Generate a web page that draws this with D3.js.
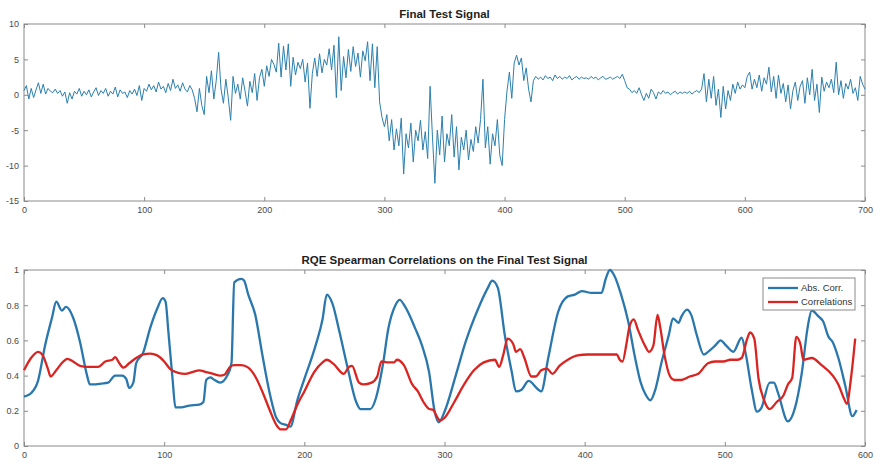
<!DOCTYPE html>
<html>
<head>
<meta charset="utf-8">
<script src="https://cdn.jsdelivr.net/npm/d3@7"></script>
<style>
  body { margin: 0; background: #fff; }
  svg { display: block; font-family: "Liberation Sans", Arial, Helvetica, sans-serif; }
  .axis text { fill: #4a4a4a; font-size: 9px; }
  .axis line { stroke: #8a8a8a; }
  .axis path { display: none; }
  .title { font-weight: bold; font-size: 11.5px; fill: #1e1e1e; }
  .legend text { font-size: 9.5px; fill: #333; }
</style>
</head>
<body>
<div id="chart"></div>
<script>
// top panel: test signal, one value every 2 samples (0..700)
var signalStep = 2;
var signalValues = [
  0.6, 1.3, -0.6, 0.9, -0.4, 0.7, 1.7, 0.2, 1.5, 0.1, 0.9, 0.5, 0.3, 0.8, 0.2, 0.6, -0.2, 0.4, -1.2, 0.3, -0.6, 0.5, 0.1, 0.9, -0.2,
  0.5, 0.0, 0.7, -0.3, 0.4, 1.0, -0.1, 0.6, 0.2, 0.9, -0.2, 0.5, 0.1, 1.1, -0.3, 0.7, 0.2, 0.4, -0.4, 0.6, 0.1, 0.8, -0.1, 1.3, -0.8,
  0.9, 0.5, 1.5, 0.7, 1.3, 0.4, 1.8, 0.8, 1.2, 0.3, 1.6, 0.6, 2.2, 0.9, 1.4, 0.5, 1.7, 0.8, 0.4, 1.3, 0.7, -0.5, -2.4, 0.9, -1.5,
  -2.8, 2.6, 0.3, 3.4, -0.6, 2.0, 6.0, 0.8, -1.2, 2.2, -0.4, -3.6, 2.6, 0.2, 1.5, -0.6, 2.4, 0.5, -1.6, 1.9, 0.3, 3.0, -0.8, 2.4, 3.6,
  1.2, 4.1, 2.6, 5.0, 4.3, 3.2, 7.3, 2.5, 6.9, 3.5, 7.2, 1.2, 5.3, 2.8, 4.6, 3.7, 5.0, 1.8, 4.5, -1.9, 3.0, 5.2, 2.6, 5.8, 3.1,
  5.0, 4.2, 6.5, 3.5, 7.0, -0.4, 8.2, 0.6, 5.4, 2.4, 6.4, 3.3, 6.8, 4.0, 5.9, 2.5, 6.2, 4.8, 7.5, 2.0, 7.2, 1.0, 6.8, -1.0, -3.2,
  -4.5, -2.8, -6.5, -3.5, -7.8, -4.8, -7.2, -3.3, -11.2, -5.5, -7.5, -4.0, -9.5, -5.0, -6.5, -3.6, -7.8, -5.2, -9.0, 1.2, -6.0, -12.5, -5.0, -8.5, -3.0,
  -9.5, -5.5, -7.2, -2.8, -8.8, -4.5, -10.6, -6.0, -7.8, -5.0, -9.2, -6.3, -8.0, -4.5, -6.8, -3.5, 2.2, -7.5, -4.5, -9.8, -5.5, -7.2, -3.5, -8.5, -10.0,
  -3.5, 0.5, 3.2, -0.5, 4.5, 5.6, 4.2, 5.2, 2.0, 3.8, 0.8, -1.0, 2.0, 2.6, 2.2, 2.5, 2.1, 2.7, 2.3, 2.5, 2.0, 2.8, 2.3, 2.6, 2.2,
  2.5, 2.3, 2.7, 2.1, 2.4, 2.6, 2.2, 2.5, 2.3, 2.4, 2.2, 2.6, 2.3, 2.5, 2.1, 2.4, 2.6, 2.2, 2.3, 2.5, 2.2, 2.4, 2.6, 2.3, 2.9,
  2.0, 1.0, 0.8, 0.3, 0.6, 0.2, 1.0, 0.0, -0.8, 0.2, -0.5, 0.8, 0.3, -0.6, 0.4, 0.1, 0.6, 0.2, 0.4, 0.0, 0.3, 0.5, 0.1, 0.4, 0.2,
  0.4, 0.2, 0.5, 0.1, 0.4, 0.6, 0.3, 0.8, 3.0, -1.0, 2.2, -0.5, 2.6, -1.5, 0.8, -3.2, 1.2, -2.0, 0.6, -0.8, 1.5, 0.2, 1.8, 0.8, 1.4,
  1.0, 2.6, 3.2, 0.8, 2.2, 1.0, 2.8, 0.5, 2.4, 1.5, 3.9, 0.4, 2.6, -0.5, 2.8, 0.2, 1.6, -1.0, 1.4, -2.0, 0.6, 1.8, -0.8, 1.2, 2.0,
  -1.2, 2.4, 0.0, 3.6, -0.8, 1.5, -2.5, 2.5, 0.5, 1.8, 1.0, 2.2, 0.3, 4.6, 0.0, 2.0, -0.5, 1.6, 0.8, 2.2, 0.2, 1.0, -0.8, 2.6, 1.5,
  0.8
];

// bottom panel: Abs. Corr. (blue)
var absX = [0, 5, 10, 15, 20, 23, 27, 30, 35, 40, 45, 47, 50, 55, 60, 65, 70, 73, 75, 78, 80, 85, 90, 95, 99, 101, 103, 106, 108, 112,
  118, 125, 128, 130, 133, 135, 140, 145, 148, 150, 155, 157, 160, 165, 170, 175, 180, 183, 187, 190, 195, 200, 208, 213, 216, 220,
  225, 231, 237, 240, 247, 251, 256, 260, 265, 268, 272, 279, 284, 289, 293, 296, 300, 308, 315, 324, 331, 334, 338, 343, 348, 351,
  355, 360, 367, 369, 374, 381, 388, 393, 398, 405, 412, 415, 418, 421, 426, 431, 436, 440, 443, 447, 450, 455, 460, 463, 467, 469,
  473, 476, 480, 485, 488, 493, 497, 501, 506, 512, 515, 519, 523, 526, 532, 535, 538, 545, 550, 555, 559, 562, 567, 570, 574, 577,
  581, 586, 591, 594];
var absY = [0.28, 0.30, 0.37, 0.57, 0.73, 0.82, 0.77, 0.79, 0.73, 0.59, 0.40, 0.35, 0.35, 0.355, 0.36, 0.40, 0.40, 0.38, 0.33, 0.36,
  0.47, 0.53, 0.67, 0.78, 0.84, 0.82, 0.65, 0.38, 0.22, 0.22, 0.23, 0.235, 0.25, 0.375, 0.39, 0.38, 0.36, 0.40, 0.47, 0.93, 0.95,
  0.94, 0.86, 0.745, 0.52, 0.31, 0.16, 0.13, 0.12, 0.11, 0.26, 0.38, 0.57, 0.72, 0.86, 0.81, 0.65, 0.44, 0.25, 0.21, 0.21, 0.27,
  0.46, 0.67, 0.80, 0.83, 0.79, 0.67, 0.57, 0.42, 0.195, 0.135, 0.195, 0.40, 0.59, 0.78, 0.90, 0.94, 0.90, 0.63, 0.42, 0.31, 0.32,
  0.37, 0.32, 0.31, 0.50, 0.76, 0.85, 0.86, 0.88, 0.87, 0.87, 0.95, 1.0, 0.97, 0.86, 0.71, 0.50, 0.36, 0.30, 0.26, 0.31, 0.48,
  0.63, 0.725, 0.70, 0.735, 0.775, 0.745, 0.63, 0.52, 0.535, 0.57, 0.60, 0.57, 0.535, 0.615, 0.52, 0.33, 0.195, 0.215, 0.36, 0.36,
  0.30, 0.14, 0.215, 0.42, 0.67, 0.77, 0.735, 0.71, 0.62, 0.59, 0.50, 0.34, 0.17, 0.205];

// bottom panel: Correlations (red)
var corrX = [0, 5, 10, 13, 17, 19, 23, 28, 31, 35, 40, 45, 50, 53, 58, 63, 65, 68, 71, 75, 80, 85, 90, 95, 100, 104, 110, 115, 120,
  125, 130, 135, 140, 143, 147, 150, 155, 160, 165, 170, 175, 180, 183, 187, 190, 195, 200, 207, 213, 216, 221, 228, 232, 234, 239,
  242, 248, 252, 255, 259, 264, 266, 271, 277, 281, 285, 289, 292, 294, 297, 300, 307, 314, 321, 328, 336, 339, 342, 345, 349, 351,
  354, 357, 362, 365, 369, 373, 377, 382, 388, 395, 402, 410, 419, 423, 425, 427, 430, 432, 435, 438, 443, 446, 449, 452, 454, 457,
  461, 464, 469, 475, 481, 488, 493, 499, 504, 509, 512, 516, 518, 521, 524, 528, 532, 537, 542, 545, 548, 551, 554, 556, 562, 569,
  577, 581, 585, 587, 590, 593];
var corrY = [0.43, 0.50, 0.535, 0.52, 0.44, 0.395, 0.43, 0.48, 0.495, 0.48, 0.455, 0.45, 0.45, 0.45, 0.48, 0.49, 0.505, 0.47, 0.445,
  0.47, 0.50, 0.52, 0.525, 0.515, 0.48, 0.44, 0.415, 0.41, 0.42, 0.43, 0.42, 0.41, 0.40, 0.405, 0.45, 0.46, 0.46, 0.445, 0.395,
  0.31, 0.21, 0.12, 0.095, 0.095, 0.14, 0.235, 0.31, 0.42, 0.475, 0.49, 0.465, 0.41, 0.45, 0.455, 0.36, 0.35, 0.36, 0.395, 0.48,
  0.475, 0.475, 0.49, 0.46, 0.35, 0.31, 0.25, 0.21, 0.205, 0.175, 0.145, 0.16, 0.25, 0.35, 0.43, 0.475, 0.49, 0.45, 0.52, 0.61,
  0.58, 0.535, 0.55, 0.50, 0.395, 0.395, 0.43, 0.44, 0.41, 0.455, 0.49, 0.515, 0.52, 0.52, 0.52, 0.52, 0.49, 0.48, 0.59, 0.68,
  0.72, 0.66, 0.57, 0.535, 0.57, 0.745, 0.67, 0.515, 0.395, 0.375, 0.375, 0.395, 0.41, 0.47, 0.48, 0.48, 0.49, 0.49, 0.50, 0.61,
  0.645, 0.61, 0.385, 0.26, 0.21, 0.25, 0.29, 0.35, 0.385, 0.62, 0.575, 0.49, 0.50, 0.46, 0.40, 0.35, 0.27, 0.24, 0.385, 0.61];

var signalTicksX = [0, 100, 200, 300, 400, 500, 600, 700];
var signalTicksY = [-15, -10, -5, 0, 5, 10];
var corrTicksX = [0, 100, 200, 300, 400, 500, 600];
var corrTicksY = [0, 0.2, 0.4, 0.6, 0.8, 1];
var seriesNames = ["Abs. Corr.", "Correlations"];
var seriesColors = ["#2a77ae", "#d92522"];

var width = 876, height = 464;

var svg = d3.select("#chart").append("svg")
    .attr("width", width)
    .attr("height", height)

svg.append("rect").attr("width", width).attr("height", height).attr("fill", "#fff")

// one MATLAB style box with inward ticks on all four sides
function drawPanel(box, xDomain, yDomain, xTicks, yTicks, title) {
    var x = d3.scaleLinear().domain(xDomain).range([box.left, box.right])
    var y = d3.scaleLinear().domain(yDomain).range([box.bottom, box.top])
    var fmt = function (d) { return String(d) }

    svg.append("g")
        .attr("class", "axis")
        .attr("transform", "translate(0," + box.bottom + ")")
        .call(d3.axisBottom(x).tickValues(xTicks).tickSize(-4).tickSizeOuter(0).tickPadding(6).tickFormat(fmt))

    svg.append("g")
        .attr("class", "axis")
        .attr("transform", "translate(0," + box.top + ")")
        .call(d3.axisTop(x).tickValues(xTicks).tickSize(-4).tickSizeOuter(0).tickFormat(""))

    svg.append("g")
        .attr("class", "axis")
        .attr("transform", "translate(" + box.left + ",0)")
        .call(d3.axisLeft(y).tickValues(yTicks).tickSize(-4).tickSizeOuter(0).tickPadding(5).tickFormat(fmt))

    svg.append("g")
        .attr("class", "axis")
        .attr("transform", "translate(" + box.right + ",0)")
        .call(d3.axisRight(y).tickValues(yTicks).tickSize(-4).tickSizeOuter(0).tickFormat(""))

    svg.append("rect")
        .attr("x", box.left)
        .attr("y", box.top)
        .attr("width", box.right - box.left)
        .attr("height", box.bottom - box.top)
        .attr("fill", "none")
        .attr("stroke", "#8a8a8a")
        .attr("stroke-width", 1)

    svg.append("text")
        .attr("class", "title")
        .attr("x", (box.left + box.right) / 2)
        .attr("y", box.top - 6)
        .attr("text-anchor", "middle")
        .text(title)

    return { x: x, y: y }
}

// top: the test signal
var signalPanel = drawPanel({ left: 24, right: 865, top: 24, bottom: 201 }, [0, 700], [-15, 10],
    signalTicksX, signalTicksY, "Final Test Signal")

var signalLine = d3.line()
    .x(function (d, i) { return signalPanel.x(i * signalStep) })
    .y(function (d) { return signalPanel.y(d) })

svg.append("path")
    .datum(signalValues)
    .attr("d", signalLine)
    .attr("fill", "none")
    .attr("stroke", "#2b80ad")
    .attr("stroke-width", 1)
    .attr("stroke-linejoin", "round")

// bottom: the two correlation curves
var corrPanel = drawPanel({ left: 24, right: 865, top: 270, bottom: 446 }, [0, 600], [0, 1],
    corrTicksX, corrTicksY, "RQE Spearman Correlations on the Final Test Signal")

var corrLine = d3.line()
    .curve(d3.curveMonotoneX)
    .x(function (d) { return corrPanel.x(d[0]) })
    .y(function (d) { return corrPanel.y(d[1]) })

var series = [
    d3.zip(absX, absY),
    d3.zip(corrX, corrY)
]

series.forEach(function (pts, i) {
    svg.append("path")
        .datum(pts)
        .attr("d", corrLine)
        .attr("fill", "none")
        .attr("stroke", seriesColors[i])
        .attr("stroke-width", 2.3)
        .attr("stroke-linejoin", "round")
})

// legend, top right of the bottom box
var legend = svg.append("g")
    .attr("class", "legend")
    .attr("transform", "translate(763,278)")

legend.append("rect")
    .attr("width", 92)
    .attr("height", 32)
    .attr("fill", "#fff")
    .attr("stroke", "#8a8a8a")

seriesNames.forEach(function (name, i) {
    legend.append("line")
        .attr("x1", 5).attr("x2", 35)
        .attr("y1", 10 + i * 14).attr("y2", 10 + i * 14)
        .attr("stroke", seriesColors[i])
        .attr("stroke-width", 2.3)
    legend.append("text")
        .attr("x", 38)
        .attr("y", 10 + i * 14)
        .attr("dy", "0.35em")
        .text(name)
})
</script>
</body>
</html>
